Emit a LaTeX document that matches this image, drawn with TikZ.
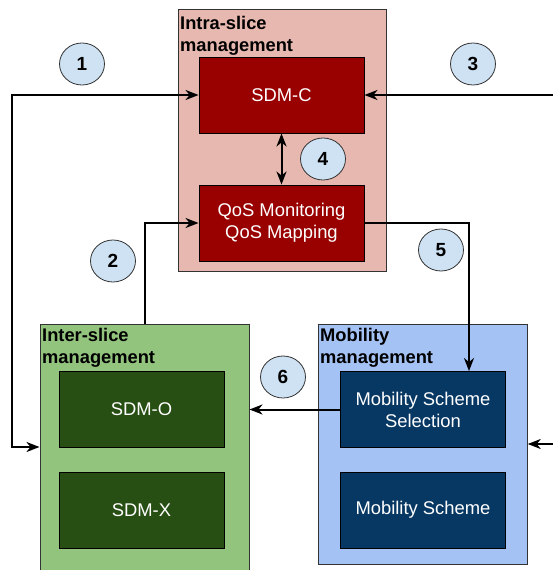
\documentclass[tikz,border=0pt]{standalone}
\usepackage{fontspec}
\setmainfont{Liberation Sans}
\usetikzlibrary{arrows.meta,shapes.geometric}
\definecolor{intrabg}{HTML}{E6B8AF}
\definecolor{intradk}{HTML}{990000}
\definecolor{interbg}{HTML}{93C47D}
\definecolor{interdk}{HTML}{274E13}
\definecolor{mobbg}{HTML}{A4C2F4}
\definecolor{mobdk}{HTML}{073763}
\definecolor{numbg}{HTML}{CFE2F3}
\definecolor{edgecol}{HTML}{333333}
\begin{document}
\begin{tikzpicture}[x=1pt,y=-1pt,
  group/.style={draw=edgecol,line width=1pt,inner sep=0pt},
  inbox/.style={draw=black,line width=0.9pt,minimum width=165pt,minimum height=76pt,inner sep=0pt,
    text=white,align=center,font=\fontsize{18.4}{22}\selectfont},
  title/.style={anchor=north west,inner sep=0pt,align=left,font=\bfseries\fontsize{18.3}{22}\selectfont},
  num/.style={ellipse,draw=edgecol,line width=0.8pt,fill=numbg,minimum width=45pt,minimum height=42pt,
    inner sep=0pt,font=\bfseries\fontsize{19}{19}\selectfont},
  arr/.style={line width=2pt,-{Stealth[length=13pt,width=10pt,inset=4pt]}},
  darr/.style={line width=2pt,{Stealth[length=13pt,width=10pt,inset=4pt]}-{Stealth[length=13pt,width=10pt,inset=4pt]}}
]
\clip (0,0) rectangle (553,570);
% group boxes
\node[group,fill=intrabg,minimum width=208pt,minimum height=262pt] (intra) at (282,140) {};
\node[group,fill=interbg,minimum width=209pt,minimum height=256pt] (inter) at (144.5,452) {};
\node[group,fill=mobbg,minimum width=208.5pt,minimum height=240pt] (mob) at (423,444) {};
% titles
\node[title] (tintra) at (180,16) {Intra-slice\\management};
\node[title] (tinter) at (42,328) {Inter-slice\\management};
\node[title] (tmob) at (320,328) {Mobility\\management};
% inner boxes
\node[inbox,fill=intradk] (sdmc) at (281.5,95) {SDM-C};
\node[inbox,fill=intradk] (qos) at (281.5,223) {QoS Monitoring\\QoS Mapping};
\node[inbox,fill=interdk] (sdmo) at (141.5,409.5) {SDM-O};
\node[inbox,fill=interdk] (sdmx) at (141.5,510) {SDM-X};
\node[inbox,fill=mobdk] (mss) at (423,409.5) {Mobility Scheme\\Selection};
\node[inbox,fill=mobdk] (ms) at (423,510) {Mobility Scheme};
% free ends
\coordinate (left) at (12,95);
\coordinate (r3) at (553,95);
\coordinate (r7) at (553,444);
\coordinate (c5) at (469,223);
% connectors
\draw[darr] (sdmc.west) -- (left) |- (inter.west |- 0,447);
\draw[arr] (r3) -- (sdmc.east);
\draw[darr] (sdmc.south) -- (qos.north);
\draw[arr] (inter.north) |- (qos.west);
\draw[arr] (qos.east) -- (c5) -- (c5 |- mss.north);
\draw[arr] (mss.west) -- (mss.west -| inter.east);
\draw[arr] (r7) -- (r7 -| mob.east);
% numbers
\node[num] (n1) at (82,64) {1};
\node[num] (n2) at (113,261) {2};
\node[num] (n3) at (473,64) {3};
\node[num] (n4) at (323,159) {4};
\node[num] (n5) at (441,250) {5};
\node[num] (n6) at (283,377) {6};
\end{tikzpicture}
\end{document}
